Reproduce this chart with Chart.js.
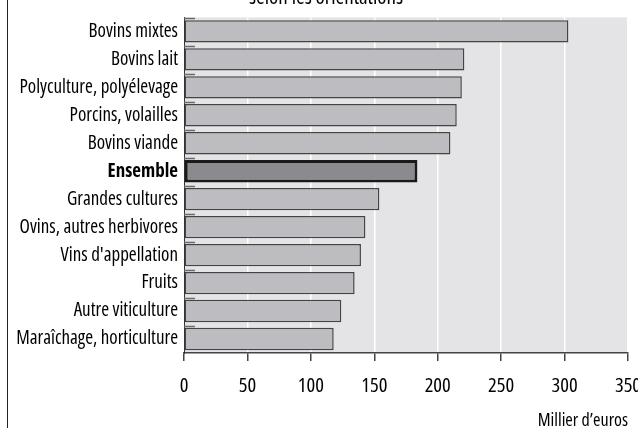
<!DOCTYPE html>
<html>
<head>
<meta charset="utf-8">
<script src="https://cdn.jsdelivr.net/npm/chart.js@4/dist/chart.umd.min.js"></script>
<style>
  html, body { margin: 0; padding: 0; background: #fff; }
  #wrap { position: relative; width: 638px; height: 428px; }
  #frame { position: absolute; left: 7px; top: 0; width: 1px; height: 428px; background: #222; }
</style>
</head>
<body>
<div id="wrap">
  <canvas id="chart" width="638" height="428"></canvas>
  <div id="frame"></div>
</div>
<script>
// Revenu par orientation (millier d'euros)
const categories = [
    'Bovins mixtes', 'Bovins lait', 'Polyculture, polyélevage', 'Porcins, volailles',
    'Bovins viande', 'Ensemble', 'Grandes cultures', 'Ovins, autres herbivores',
    "Vins d'appellation", 'Fruits', 'Autre viticulture', 'Maraîchage, horticulture'
];
const values = [303, 221, 219, 215, 210, 184, 154, 143, 139.5, 134.5, 124, 118];
const highlight = 'Ensemble';

const xMin = 0;
const xMax = 350;
const xStep = 50;

const titleText = 'selon les orientations';
const xTitle = 'Millier d\u2019euros';

// police étroite : Open Sans en "condensed" (le poids sert à passer le font-stretch)
const FONT = "'Open Sans', 'DejaVu Sans Condensed', sans-serif";
const NARROW = 'condensed';
const NARROW_BOLD = 'bold condensed';

const isHi = (i) => categories[i] === highlight;

// fond gris de la zone de tracé
const plotBg = {
    id: 'plotBg',
    beforeDraw(chart) {
        const a = chart.chartArea;
        const ctx = chart.ctx;
        ctx.save();
        ctx.fillStyle = '#e4e4e6';
        ctx.fillRect(a.left, a.top, a.right - a.left, a.bottom - a.top);
        ctx.restore();
    }
};

// petits traits gris en haut de chaque catégorie, côté intérieur de l'axe
const innerTicks = {
    id: 'innerTicks',
    afterDatasetsDraw(chart) {
        const y = chart.scales.y;
        const left = chart.chartArea.left;
        const step = categories.length > 1 ? y.getPixelForValue(1) - y.getPixelForValue(0) : 0;
        const ctx = chart.ctx;
        ctx.save();
        ctx.strokeStyle = '#6a6a6a';
        ctx.lineWidth = 1.5;
        categories.forEach((c, i) => {
            const py = Math.round(y.getPixelForValue(i) - step / 2) + 1.5;
            ctx.beginPath();
            ctx.moveTo(left, py);
            ctx.lineTo(left + 11, py);
            ctx.stroke();
        });
        ctx.restore();
    }
};

// titre coupé en haut de l'image
const cutTitle = {
    id: 'cutTitle',
    afterDraw(chart) {
        const ctx = chart.ctx;
        ctx.save();
        ctx.font = NARROW + ' 21px ' + FONT;
        ctx.fillStyle = '#000';
        ctx.textAlign = 'center';
        ctx.textBaseline = 'alphabetic';
        ctx.fillText(titleText, 326, 4);
        ctx.restore();
    }
};

new Chart(document.getElementById('chart').getContext('2d'), {
    type: 'bar',
    data: {
        labels: categories,
        datasets: [{
            data: values,
            backgroundColor: categories.map((c, i) => isHi(i) ? '#8b8b8f' : '#bdbdc1'),
            borderColor: categories.map((c, i) => isHi(i) ? '#1a1a1a' : '#444444'),
            borderWidth: categories.map((c, i) => isHi(i) ? 3 : 1.5),
            borderSkipped: false,
            categoryPercentage: 0.8,
            barPercentage: 1
        }]
    },
    options: {
        indexAxis: 'y',
        responsive: false,
        animation: false,
        layout: { padding: { top: 11, right: 10, bottom: 0, left: 0 } },
        plugins: {
            legend: { display: false },
            tooltip: { enabled: false }
        },
        scales: {
            x: {
                min: xMin,
                max: xMax,
                afterFit: (scale) => {
                    scale.height = 75;
                    scale.paddingRight = 0;
                },
                ticks: {
                    stepSize: xStep,
                    color: '#000',
                    padding: 13,
                    font: { family: FONT, size: 20.5, weight: NARROW }
                },
                grid: {
                    color: '#ffffff',
                    lineWidth: 1.5,
                    tickColor: '#444',
                    tickLength: 8
                },
                border: { display: true, color: '#444', width: 1.5 },
                title: {
                    display: true,
                    text: xTitle,
                    align: 'end',
                    color: '#000',
                    padding: { top: 0, bottom: -4 },
                    font: { family: FONT, size: 18, weight: NARROW }
                }
            },
            y: {
                afterFit: (scale) => { scale.width = 184; },
                grid: { display: false, drawTicks: false },
                border: { display: true, color: '#333', width: 1 },
                ticks: {
                    color: '#000',
                    padding: 6,
                    font: (ctx) => ({
                        family: FONT,
                        size: 19,
                        weight: isHi(ctx.index) ? NARROW_BOLD : NARROW
                    })
                }
            }
        }
    },
    plugins: [plotBg, innerTicks, cutTitle]
});
</script>
</body>
</html>
